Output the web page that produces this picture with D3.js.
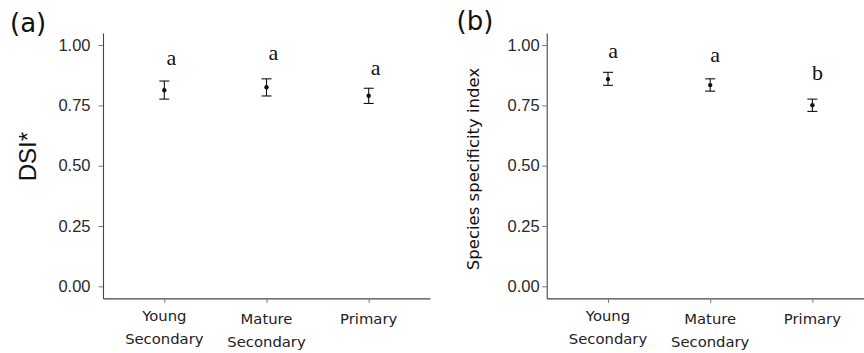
<!DOCTYPE html>
<html>
<head>
<meta charset="utf-8">
<script src="https://cdn.jsdelivr.net/npm/d3@7"></script>
<style>
  body { margin: 0; background: #fff; }
  svg { display: block; }
</style>
</head>
<body>
<div id="chart"></div>
<script>
// categories and tick values
const categories = ["Young Secondary", "Mature Secondary", "Primary"];
const categoryLines = [["Young", "Secondary"], ["Mature", "Secondary"], ["Primary"]];
const yTicks = [0, 0.25, 0.5, 0.75, 1];

// panel (a) DSI*
const dsiMean = [0.813, 0.825, 0.790];
const dsiLower = [0.776, 0.789, 0.758];
const dsiUpper = [0.851, 0.860, 0.821];
const dsiLetters = ["a", "a", "a"];
const dsiLetterY = [0.917, 0.938, 0.876];

// panel (b) species specificity index
const ssiMean = [0.859, 0.834, 0.751];
const ssiLower = [0.833, 0.809, 0.725];
const ssiUpper = [0.887, 0.860, 0.776];
const ssiLetters = ["a", "a", "b"];
const ssiLetterY = [0.945, 0.931, 0.855];

const svg = d3.select("#chart").append("svg")
  .attr("width", 864).attr("height", 353);

const y = d3.scaleLinear().domain([-0.05, 1.05]).range([298.4, 33]);

function drawPanel(opt) {
  const g = svg.append("g");
  const x = d3.scalePoint().domain(categories)
    .range([opt.x0, opt.x0 + 327]).padding(0.6);

  // y axis
  const ya = g.append("g").attr("transform", `translate(${opt.x0},0)`)
    .call(d3.axisLeft(y).tickValues(yTicks).tickFormat(d3.format(".2f"))
      .tickSize(4.5).tickSizeOuter(0).tickPadding(opt.pad));
  ya.select(".domain").attr("stroke", "#444").attr("stroke-width", 1.1);
  ya.selectAll(".tick line").attr("stroke", "#777");
  ya.selectAll(".tick text")
    .style("font-family", "'Liberation Sans', Arial, sans-serif")
    .style("font-size", "16.5px").attr("fill", "#2a2a2a");

  // x axis
  const xa = g.append("g").attr("transform", "translate(0,298.4)")
    .call(d3.axisBottom(x).tickSize(4.5).tickSizeOuter(0).tickFormat(""));
  xa.select(".domain").attr("stroke", "#444").attr("stroke-width", 1.1);
  xa.selectAll(".tick line").attr("stroke", "#777");

  categories.forEach((c, i) => {
    const t = g.append("text")
      .attr("x", x(c))
      .attr("y", i === 0 ? 321 : 324)
      .attr("text-anchor", "middle")
      .style("font-family", "'DejaVu Sans', sans-serif")
      .style("font-size", "14.8px").attr("fill", "#222");
    categoryLines[i].forEach((line, k) => {
      t.append("tspan").attr("x", x(c)).attr("dy", k === 0 ? 0 : 23).text(line);
    });
  });

  // error bars
  categories.forEach((c, i) => {
    const cx = x(c);
    g.append("line").attr("x1", cx).attr("x2", cx)
      .attr("y1", y(opt.lower[i])).attr("y2", y(opt.upper[i]))
      .attr("stroke", "#111").attr("stroke-width", 1.1);
    [opt.lower[i], opt.upper[i]].forEach(v => {
      g.append("line").attr("x1", cx - 5).attr("x2", cx + 5)
        .attr("y1", y(v)).attr("y2", y(v))
        .attr("stroke", "#111").attr("stroke-width", 1.1);
    });
    g.append("circle").attr("cx", cx).attr("cy", y(opt.mean[i]))
      .attr("r", 2.2).attr("fill", "#111");
    g.append("text")
      .attr("x", cx + opt.letterDx).attr("y", y(opt.letterY[i]))
      .attr("text-anchor", "middle")
      .style("font-family", "'Liberation Serif', 'Times New Roman', serif")
      .style("font-size", "22px").attr("fill", "#111")
      .text(opt.letters[i]);
  });

  // axis title
  g.append("text")
    .attr("transform", `translate(${opt.titleX},${opt.titleY}) rotate(-90)`)
    .attr("text-anchor", "middle")
    .style("font-family", opt.titleFont)
    .style("font-size", opt.titleSize).attr("fill", "#111")
    .text(opt.title);

  // panel label
  svg.append("text").attr("x", opt.labelX).attr("y", opt.labelY)
    .style("font-family", "'DejaVu Sans', sans-serif")
    .style("font-size", "26px").attr("fill", "#111")
    .text(opt.label);
}

drawPanel({
  x0: 103, pad: 8, mean: dsiMean, lower: dsiLower, upper: dsiUpper,
  letters: dsiLetters, letterY: dsiLetterY, letterDx: 7,
  title: "DSI*", titleX: 35.5, titleY: 156.7,
  titleFont: "'Liberation Sans', Arial, sans-serif", titleSize: "24px",
  label: "(a)", labelX: 10, labelY: 31.5
});

drawPanel({
  x0: 546.7, pad: 2.5, mean: ssiMean, lower: ssiLower, upper: ssiUpper,
  letters: ssiLetters, letterY: ssiLetterY, letterDx: 5,
  title: "Species specificity index", titleX: 478.7, titleY: 169,
  titleFont: "'DejaVu Sans', sans-serif", titleSize: "16.5px",
  label: "(b)", labelX: 456.5, labelY: 29.5
});
</script>
</body>
</html>
